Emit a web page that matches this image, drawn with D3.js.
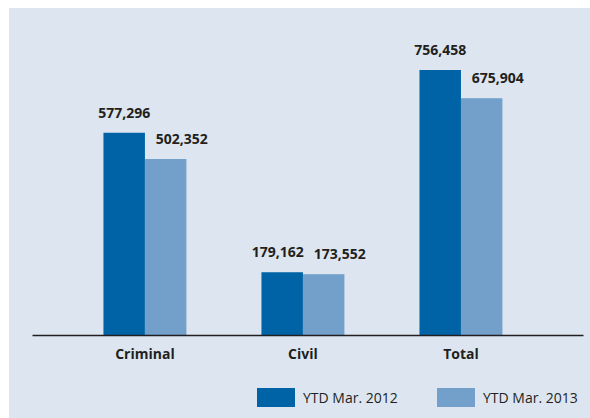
<!DOCTYPE html>
<html>
<head>
<meta charset="utf-8">
<script src="https://cdn.jsdelivr.net/npm/d3@7"></script>
<style>
  html, body { margin: 0; padding: 0; background: #ffffff; }
  svg { display: block; }
  text { font-family: "Open Sans", "DejaVu Sans", sans-serif; fill: #231f20; }
</style>
</head>
<body>
<div id="chart"></div>
<script>
// Caseload figures, year-to-date March
const categories = ["Criminal", "Civil", "Total"];
const seriesNames = ["YTD Mar. 2012", "YTD Mar. 2013"];
const values2012 = [577296, 179162, 756458];
const values2013 = [502352, 173552, 675904];
const seriesColors = ["#0063a6", "#72a0ca"];

const W = 590, H = 418;
const svg = d3.select("#chart").append("svg")
  .attr("width", W).attr("height", H);

// Light panel behind the chart
svg.append("rect")
  .attr("x", 9).attr("y", 8)
  .attr("width", W - 9).attr("height", H - 8)
  .attr("fill", "#dde6f0");

const baseY = 335;
const x = d3.scaleBand()
  .domain(categories)
  .range([32, 583])
  .paddingInner(0.475)
  .paddingOuter(0.481)
  .align(0.47);

const xs = d3.scaleBand()
  .domain(seriesNames)
  .range([0, x.bandwidth()]);

const y = d3.scaleLinear()
  .domain([0, 756458])
  .range([baseY, 70]);

const seriesValues = [values2012, values2013];
const rows = [];
categories.forEach((c, i) => {
  seriesNames.forEach((s, j) => {
    rows.push({ cat: c, series: s, si: j, value: seriesValues[j][i] });
  });
});

const fmt = d3.format(",");

// Bars
svg.append("g").selectAll("rect")
  .data(rows)
  .join("rect")
  .attr("x", d => x(d.cat) + xs(d.series))
  .attr("y", d => y(d.value))
  .attr("width", xs.bandwidth())
  .attr("height", d => baseY - y(d.value))
  .attr("fill", d => seriesColors[d.si]);

// Value labels: first series centred on its bar, second nudged right;
// when two labels in a group collide, the first one moves left.
const labelG = svg.append("g");
categories.forEach(c => {
  const grp = rows.filter(r => r.cat === c);
  const texts = grp.map(d => {
    const cx = x(d.cat) + xs(d.series) + xs.bandwidth() / 2 + (d.si === 1 ? 16 : 0);
    const t = labelG.append("text")
      .attr("x", cx)
      .attr("y", y(d.value) - 15)
      .attr("text-anchor", "middle")
      .attr("font-size", 14)
      .attr("font-weight", 700)
      .text(fmt(d.value));
    return { t, cx, w: t.node().getComputedTextLength() };
  });
  const [a, b] = texts;
  const gap = 10;
  const overlap = (a.cx + a.w / 2 + gap) - (b.cx - b.w / 2);
  const dyDiff = Math.abs(+a.t.attr("y") - +b.t.attr("y"));
  if (overlap > 0 && dyDiff < 16) {
    a.t.attr("x", a.cx - overlap);
  }
});

// Category axis
const axis = svg.append("g")
  .attr("transform", `translate(0,${baseY})`)
  .call(d3.axisBottom(x).tickSize(0).tickPadding(14));
axis.select(".domain").attr("stroke", "#231f20").attr("stroke-width", 1.5);
axis.selectAll(".tick text")
  .attr("font-size", 14)
  .attr("font-weight", 700)
  .attr("fill", "#231f20")
  .style("font-family", "'Open Sans', 'DejaVu Sans', sans-serif");

// Legend
const legendX = [257, 437];
const legend = svg.append("g");
seriesNames.forEach((s, i) => {
  legend.append("rect")
    .attr("x", legendX[i]).attr("y", 388)
    .attr("width", 38).attr("height", 19)
    .attr("fill", seriesColors[i]);
  legend.append("text")
    .attr("x", legendX[i] + 46).attr("y", 403)
    .attr("font-size", 14)
    .text(s);
});
</script>
</body>
</html>
